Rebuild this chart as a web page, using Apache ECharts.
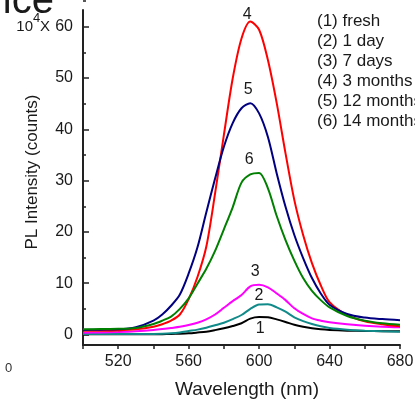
<!DOCTYPE html>
<html><head><meta charset="utf-8">
<script src="https://cdn.jsdelivr.net/npm/echarts@6/dist/echarts.min.js"></script>
<style>html,body{margin:0;padding:0;background:#fff}#c{width:415px;height:402px}</style>
</head><body><div id="c"></div>
<script>
const wavelengths = [500,510,520,530,540,545,550,555,560,565,570,575,580,585,590,595,600,605,610,615,620,625,630,635,640,650,660,670,680];
const fresh          = [0.05,0.05,0.05,0.05,0.05,0.07,0.1,0.15,0.23,0.38,0.55,0.85,1.2,1.65,2.2,3.1,3.4,3.35,2.95,2.45,1.9,1.5,1.2,1.0,0.88,0.75,0.68,0.65,0.62];
const oneDay         = [0.12,0.12,0.12,0.12,0.12,0.15,0.23,0.4,0.68,0.95,1.33,1.8,2.3,3.0,3.8,5.0,5.85,5.9,5.3,4.45,3.35,2.6,2.05,1.6,1.27,0.94,0.75,0.62,0.55];
const sevenDays      = [0.35,0.4,0.5,0.65,0.88,1.05,1.27,1.5,1.85,2.3,2.96,3.9,5.2,6.5,7.7,9.4,9.7,9.2,8.0,6.7,5.1,4.0,3.15,2.7,2.4,2.0,1.7,1.5,1.4];
const threeMonths    = [0.75,0.75,0.8,1.0,1.5,2.0,2.7,3.9,6.9,11.2,17.1,27.5,38.9,49.9,57.7,61.0,59.4,53.5,45.1,35.3,26.2,19.4,13.9,9.6,6.3,3.8,2.6,2.0,1.6];
const twelveMonths   = [0.9,0.95,1.0,1.4,2.7,3.9,5.6,7.8,11.9,17.0,23.8,30.4,36.6,41.2,44.1,45.1,43.1,38.5,31.4,24.9,19.4,14.9,11.0,8.0,5.8,4.0,3.3,3.0,2.8];
const fourteenMonths = [1.0,1.05,1.1,1.27,2.05,2.7,3.5,5.0,7.05,9.9,12.8,16.3,20.5,24.8,29.6,31.2,31.5,28.5,23.1,18.4,14.4,11.0,8.5,6.7,5.3,3.6,2.7,2.2,1.9];
const seriesNames = ['(1) fresh','(2) 1 day','(3) 7 days','(4) 3 months','(5) 12 months','(6) 14 months'];
const peakLabels = ['1','2','3','4','5','6'];
const xTickLabels = [520,560,600,640,680];
const yTickLabels = [0,10,20,30,40,50,60];

const allValues = [fresh, oneDay, sevenDays, threeMonths, twelveMonths, fourteenMonths];
const colors = ['#000000','#118a8a','#ff00ff','#ff0000','#000080','#008000'];
const labelStyles = [
  {position:'bottom', distance:3, offset:[1,0]},
  {position:'top', distance:0, offset:[-9,0]},
  {position:'top', distance:5, offset:[-4,0]},
  {position:'top', distance:-2, offset:[-3,0]},
  {position:'top', distance:5, offset:[-2,0]},
  {position:'top', distance:5, offset:[-10,0]}
];
const FONT = '"Liberation Sans", Arial, sans-serif';
const TXT = '#1a1a1a';

const chart = echarts.init(document.getElementById('c'), null, {renderer:'canvas'});
const series = allValues.map((vals, i) => ({
  type:'line', name:seriesNames[i], xAxisIndex:0, yAxisIndex:0,
  data: wavelengths.map((w, k) => [w, vals[k]]),
  smooth:0.3, symbol:'none', clip:false,
  lineStyle:{color:colors[i], width:2}, itemStyle:{color:colors[i]},
  markPoint:{
    symbol:'circle', symbolSize:1, itemStyle:{color:'rgba(0,0,0,0)'},
    data:[{type:'max'}],
    label:Object.assign({show:true, formatter:peakLabels[i], color:TXT, fontSize:16, fontFamily:FONT}, labelStyles[i])
  }
}));

// grid 0 spans values 0..70 (70 lies above the canvas), so 0..60 sit at the reference positions
chart.setOption({
  animation:false,
  backgroundColor:'#fff',
  grid:[
    {left:83, right:15, top:-24.6, bottom:67.5, outerBoundsMode:'none', containLabel:false},
    {left:83, right:15, top:10, bottom:57, outerBoundsMode:'none', containLabel:false}
  ],
  xAxis:[
    {gridIndex:0, type:'value', min:500, max:680, show:false},
    {gridIndex:1, type:'value', min:500, max:680, interval:20,
     axisLine:{show:true, lineStyle:{color:'#222', width:2}},
     axisTick:{show:true, inside:false, length:4, lineStyle:{color:'#222', width:1.5}},
     splitLine:{show:false},
     axisLabel:{margin:9, fontSize:16, color:TXT, fontFamily:FONT, showMaxLabel:true,
       formatter:v => xTickLabels.includes(v) ? String(v) : ''}}
  ],
  yAxis:[
    {gridIndex:0, type:'value', min:0, max:70, interval:10,
     axisLine:{show:false},
     axisTick:{show:true, inside:true, length:6, lineStyle:{color:'#222', width:1.5}},
     minorTick:{show:true, splitNumber:2, length:3, lineStyle:{color:'#222', width:1.5}},
     splitLine:{show:false}, minorSplitLine:{show:false},
     axisLabel:{margin:10, fontSize:16, color:TXT, fontFamily:FONT,
       formatter:v => yTickLabels.includes(v) ? String(v) : ''}},
    {gridIndex:1, type:'value', min:0, max:1,
     axisLine:{show:true, lineStyle:{color:'#222', width:2}},
     axisTick:{show:false}, axisLabel:{show:false}, splitLine:{show:false}}
  ],
  series: series,
  graphic:[
    {type:'text', left:317, top:11, style:{text:seriesNames.join('\n'), font:'17px '+FONT, lineHeight:20, fill:TXT}},
    {type:'text', x:32, y:172, rotation:Math.PI/2, style:{text:'PL Intensity (counts)', font:'17px '+FONT, fill:TXT, align:'center', verticalAlign:'middle'}},
    {type:'text', x:247, y:390, style:{text:'Wavelength (nm)', font:'19px '+FONT, fill:TXT, align:'center', verticalAlign:'middle'}},
    {type:'text', x:33, y:27, style:{text:'10', font:'15px '+FONT, fill:TXT, align:'right', verticalAlign:'middle'}},
    {type:'text', x:33, y:18, style:{text:'4', font:'13px '+FONT, fill:TXT, align:'left', verticalAlign:'middle'}},
    {type:'text', x:40, y:27, style:{text:'X', font:'15px '+FONT, fill:TXT, align:'left', verticalAlign:'middle'}},
    {type:'text', x:54, y:2, style:{text:'ice', font:'40px '+FONT, fill:TXT, align:'right', verticalAlign:'middle'}},
    {type:'text', x:5, y:368, style:{text:'0', font:'13px '+FONT, fill:'#333', align:'left', verticalAlign:'middle'}}
  ]
});
</script></body></html>
